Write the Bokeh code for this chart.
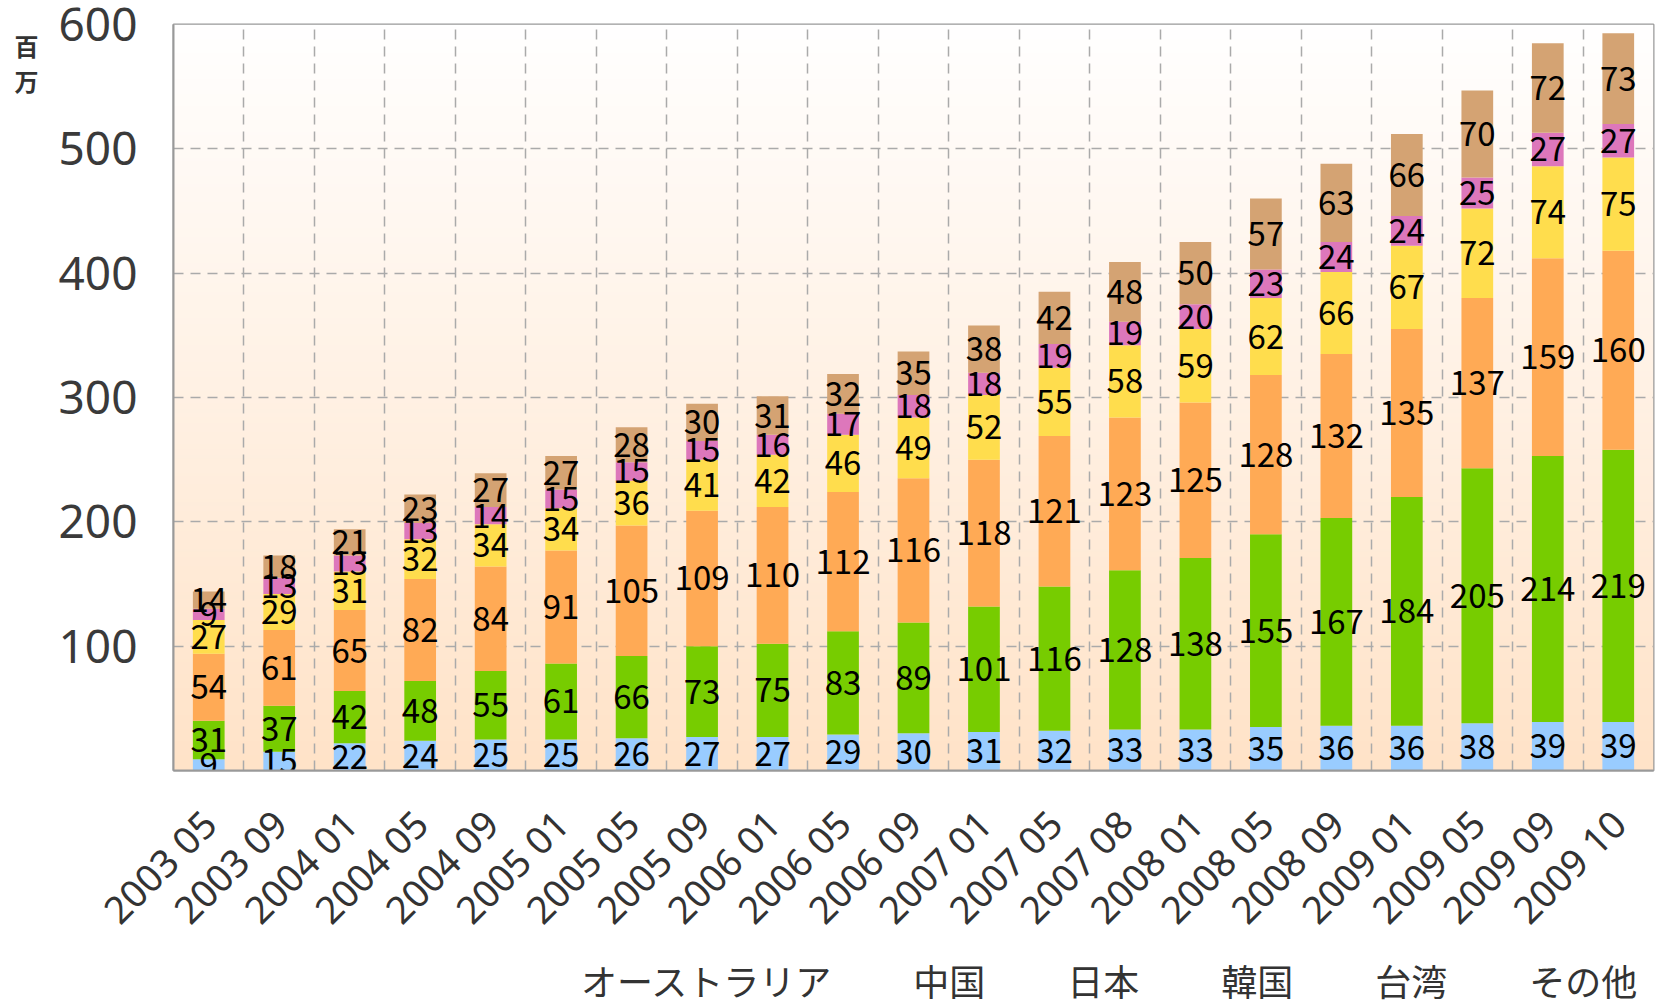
import math
import numpy as np
from bokeh.plotting import figure
from bokeh.layouts import column
from bokeh.models import (FactorRange, Range1d, FixedTicker, Grid, Legend, LegendItem,
                          ColumnDataSource, LinearAxis)
from bokeh.core.properties import value
from bokeh.embed import file_html
from bokeh.resources import INLINE

# ---------------- data ----------------
categories = ["2003 05", "2003 09", "2004 01", "2004 05", "2004 09", "2005 01", "2005 05",
              "2005 09", "2006 01", "2006 05", "2006 09", "2007 01", "2007 05", "2007 08",
              "2008 01", "2008 05", "2008 09", "2009 01", "2009 05", "2009 09", "2009 10"]

series_names = ["オーストラリア", "中国", "日本", "韓国", "台湾", "その他"]

australia = [9, 15, 22, 24, 25, 25, 26, 27, 27, 29, 30, 31, 32, 33, 33, 35, 36, 36, 38, 39, 39]
china = [31, 37, 42, 48, 55, 61, 66, 73, 75, 83, 89, 101, 116, 128, 138, 155, 167, 184, 205, 214, 219]
japan = [54, 61, 65, 82, 84, 91, 105, 109, 110, 112, 116, 118, 121, 123, 125, 128, 132, 135, 137, 159, 160]
korea = [27, 29, 31, 32, 34, 34, 36, 41, 42, 46, 49, 52, 55, 58, 59, 62, 66, 67, 72, 74, 75]
taiwan = [9, 13, 13, 13, 14, 15, 15, 15, 16, 17, 18, 18, 19, 19, 20, 23, 24, 24, 25, 27, 27]
other = [14, 18, 21, 23, 27, 27, 28, 30, 31, 32, 35, 38, 42, 48, 50, 57, 63, 66, 70, 72, 73]

y_ticks = [100, 200, 300, 400, 500, 600]
unit_label = "百\n万"

# ---------------- styling ----------------
colors = ["#99CCFF", "#77CC00", "#FFAA55", "#FFDD4D", "#DD77BB", "#D4A373"]
keys = ["aus", "chn", "jpn", "kor", "twn", "oth"]
series_values = [australia, china, japan, korea, taiwan, other]

data = {"cat": categories}
for k, v in zip(keys, series_values):
    data[k] = v
source = ColumnDataSource(data)

x_range = FactorRange(*categories)
y_range = Range1d(0, 600)
p = figure(x_range=x_range, y_range=y_range,
           frame_width=1480, frame_height=746,
           min_border_left=173, min_border_right=2, min_border_top=24, min_border_bottom=190,
           output_backend="svg", toolbar_location=None,
           background_fill_color=None, border_fill_color="white",
           outline_line_color="#999999", outline_line_width=2)

# background gradient (white at top -> peach at bottom), spans the whole frame
n = 256
t = np.linspace(0, 1, n)  # 0 bottom, 1 top
top = np.array([255, 255, 255])
bot = np.array([255, 227, 200])
rgb = (bot[None, :] * (1 - t[:, None]) + top[None, :] * t[:, None]).astype(np.uint32)
img = np.zeros((n, 1), dtype=np.uint32)
view = img.view(dtype=np.uint8).reshape((n, 1, 4))
view[:, 0, 0] = rgb[:, 0]
view[:, 0, 1] = rgb[:, 1]
view[:, 0, 2] = rgb[:, 2]
view[:, 0, 3] = 255
p.image_rgba(image=[img], x=0, y=y_range.start, dw=len(categories),
             dh=y_range.end - y_range.start, level="image")

# stacked bars
renderers = p.vbar_stack(keys, x="cat", width=0.45, color=colors, line_color=None, source=source)

# value labels at segment middles
lab_x, lab_y, lab_t = [], [], []
bottoms = np.zeros(len(categories))
for vals in series_values:
    arr = np.array(vals, dtype=float)
    for c, b, v in zip(categories, bottoms, arr):
        lab_x.append(c)
        lab_y.append(b + v / 2.0)
        lab_t.append(str(int(v)))
    bottoms = bottoms + arr
lsrc = ColumnDataSource(dict(x=lab_x, y=lab_y, t=lab_t))
p.text(x="x", y="y", text="t", source=lsrc, text_align="center", text_baseline="middle",
       text_font=value("Noto Sans CJK JP"), text_font_size="33px", text_color="black")

# grids
p.xgrid.visible = False
p.ygrid.ticker = FixedTicker(ticks=y_ticks)
p.ygrid.grid_line_color = "#AAAAAA"
p.ygrid.grid_line_width = 1.5
p.ygrid.grid_line_dash = "10 7"
vgrid = Grid(dimension=0, ticker=FixedTicker(ticks=list(range(1, len(categories)))),
             grid_line_color="#AAAAAA", grid_line_width=1.5, grid_line_dash="10 7")
p.add_layout(vgrid)

# axes
p.yaxis.ticker = FixedTicker(ticks=y_ticks)
p.yaxis.major_label_text_font = "Noto Sans"
p.yaxis.major_label_text_font_size = "46px"
p.yaxis.major_label_text_color = "#3a3a3a"
p.yaxis.major_label_standoff = 36
p.yaxis.major_tick_out = 0
p.yaxis.major_tick_in = 0
p.yaxis.major_tick_line_color = None
p.yaxis.minor_tick_line_color = None
p.yaxis.axis_line_color = "#999999"
p.yaxis.axis_line_width = 2

p.xaxis.major_label_orientation = math.pi / 4
p.xaxis.major_label_text_font = "Noto Sans"
p.xaxis.major_label_text_font_size = "38px"
p.xaxis.major_label_text_color = "#333333"
p.xaxis.major_label_standoff = 46
p.xaxis.major_tick_out = 0
p.xaxis.major_tick_in = 0
p.xaxis.major_tick_line_color = None
p.xaxis.axis_line_color = "#999999"
p.xaxis.axis_line_width = 2

# unit label ("百万") shown at the top-left, outside the y tick labels
unit_axis = LinearAxis(ticker=FixedTicker(ticks=[569]), major_label_overrides={569: unit_label},
                       axis_line_color=None, major_tick_line_color=None,
                       minor_tick_line_color=None, major_tick_out=0, major_tick_in=0,
                       minor_tick_out=0, minor_tick_in=0,
                       major_label_text_font="Noto Sans CJK JP",
                       major_label_text_font_size="24px", major_label_text_font_style="bold",
                       major_label_text_color="#333333", major_label_text_line_height=1.0,
                       major_label_standoff=17)
p.add_layout(unit_axis, "left")

# legend strip below the chart (a separate, axis-less figure)
lf = figure(width=1655, height=40, x_range=(0, 1), y_range=(0, 1),
            x_axis_location=None, y_axis_location=None, min_border=0,
            output_backend="svg", toolbar_location=None, outline_line_color=None,
            background_fill_color="white", border_fill_color="white")
lf.grid.visible = False
legend_renderers = [lf.vbar(x=[], top=[], width=0.5, color=c, line_color=None) for c in colors]
items = [LegendItem(label=name, renderers=[r]) for name, r in zip(series_names, legend_renderers)]
legend = Legend(items=items, orientation="horizontal", location=(366, -6),
                glyph_width=29, glyph_height=29, label_standoff=13, spacing=40,
                padding=0, margin=0, border_line_color=None, background_fill_alpha=0,
                label_text_font="Noto Sans CJK JP", label_text_font_size="36px",
                label_text_color="#333333")
lf.add_layout(legend, "center")

layout = column(p, lf, spacing=0)
open("out.html", "w").write(file_html(layout, INLINE))
